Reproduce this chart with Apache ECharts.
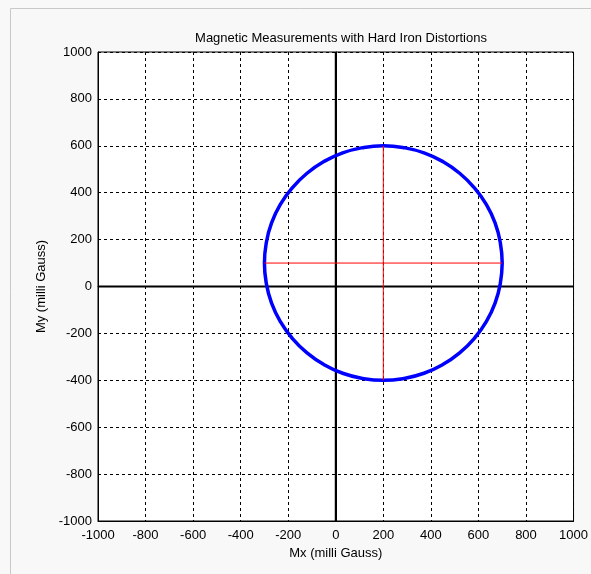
<!DOCTYPE html>
<html>
<head>
<meta charset="utf-8">
<script src="https://cdn.jsdelivr.net/npm/echarts@6/dist/echarts.min.js"></script>
<style>
html,body{margin:0;padding:0;background:#f8f8f8;}
#c{width:591px;height:574px;}
</style>
</head>
<body>
<div id="c"></div>
<script>
// Measured points around the ring (milli Gauss)
var mxValues = [700, 692, 670, 633, 583, 521, 450, 371, 287, 200, 113, 29, -50, -121, -183, -233, -270, -292, -300, -292, -270, -233, -183, -121, -50, 29, 113, 200, 287, 371, 450, 521, 583, 633, 670, 692, 700];
var myValues = [100, 187, 271, 350, 421, 483, 533, 570, 592, 600, 592, 570, 533, 483, 421, 350, 271, 187, 100, 13, -71, -150, -221, -283, -333, -370, -392, -400, -392, -370, -333, -283, -221, -150, -71, 13, 100];
// Hard iron offset crosshair
var crossH = [[-300, 100], [700, 100]];
var crossV = [[200, -400], [200, 600]];
var zeroH = [[-1000, 0], [1000, 0]];
var zeroV = [[0, -1000], [0, 1000]];
var tickMin = -1000, tickMax = 1000, tickStep = 200;
var titleText = 'Magnetic Measurements with Hard Iron Distortions';
var xName = 'Mx (milli Gauss)';
var yName = 'My (milli Gauss)';

var ring = mxValues.map(function (v, i) { return [v, myValues[i]]; });
var font = 'Liberation Sans, Arial, sans-serif';
var chart = echarts.init(document.getElementById('c'), null, {renderer: 'canvas'});
function axis(name, gap, isY) {
  return {
    type: 'value', min: tickMin, max: tickMax, interval: tickStep,
    name: name, nameLocation: 'middle', nameGap: gap,
    nameTextStyle: {color: '#000', fontFamily: font, fontSize: 13},
    axisLine: {show: true, onZero: false, lineStyle: {color: '#000', width: 1}},
    axisTick: {show: false},
    axisLabel: {color: '#000', fontFamily: font, fontSize: 13, margin: isY ? 6 : 8,
      formatter: function (v) { return String(v); }},
    splitLine: {show: true, lineStyle: {color: '#000', width: 1, type: [3, 3]}}
  };
}
chart.setOption({
  backgroundColor: '#f8f8f8',
  animation: false,
  title: {text: titleText, left: 336, top: 27, textAlign: 'center',
    textStyle: {color: '#000', fontFamily: font, fontSize: 13, fontWeight: 'normal'}},
  graphic: [
    {type: 'line', shape: {x1: 10.5, y1: 8.5, x2: 591, y2: 8.5}, style: {stroke: '#c8c8c8', lineWidth: 1}},
    {type: 'line', shape: {x1: 10.5, y1: 8.5, x2: 10.5, y2: 574}, style: {stroke: '#c8c8c8', lineWidth: 1}}
  ],
  grid: {left: 98, top: 52, width: 478, height: 469, show: true, backgroundColor: '#fff', borderColor: '#000', borderWidth: 1},
  xAxis: [axis(xName, 25, false), {type: 'value', position: 'top', min: tickMin, max: tickMax, interval: tickStep, axisLabel: {show: false}, axisTick: {show: false}, splitLine: {show: false}, axisLine: {show: true, lineStyle: {color: '#000'}}}],
  yAxis: [axis(yName, 48, true), {type: 'value', position: 'right', min: tickMin, max: tickMax, interval: tickStep, axisLabel: {show: false}, axisTick: {show: false}, splitLine: {show: false}, axisLine: {show: true, lineStyle: {color: '#000'}}}],
  series: [
    {type: 'line', data: zeroH, symbol: 'none', lineStyle: {color: '#000', width: 2}, silent: true},
    {type: 'line', data: zeroV, symbol: 'none', lineStyle: {color: '#000', width: 2}, silent: true},
    {type: 'line', data: ring, smooth: 0.5, symbol: 'none', lineStyle: {color: '#0000ff', width: 3.5}},
    {type: 'line', data: crossH, symbol: 'none', lineStyle: {color: '#ff0000', width: 1}},
    {type: 'line', data: crossV, symbol: 'none', lineStyle: {color: '#ff0000', width: 1}}
  ]
});
</script>
</body>
</html>
